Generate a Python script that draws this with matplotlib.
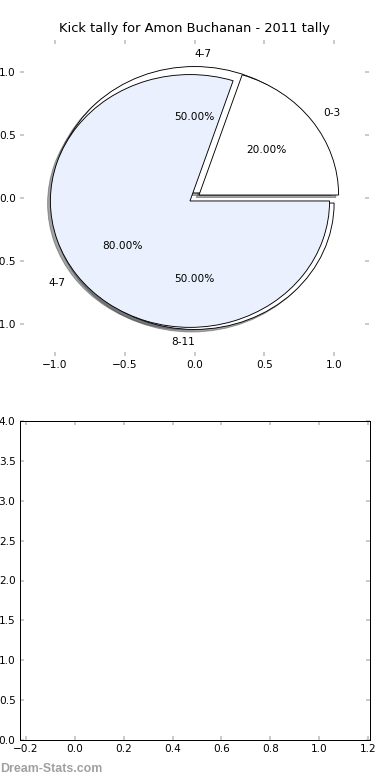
import matplotlib
matplotlib.use("Agg")
import matplotlib.pyplot as plt

# data
title = "Kick tally for Amon Buchanan - 2011 tally"
labels_a = ["0-3", "4-7"]
values_a = [20, 80]
colors_a = ["white", "#eaf0fd"]
labels_b = ["4-7", "8-11"]
values_b = [50, 50]
colors_b = ["white", "white"]
explode_amt = 0.04

pie_ticks = [-1.0, -0.5, 0.0, 0.5, 1.0]
bottom_xticks = [-0.2, 0.0, 0.2, 0.4, 0.6, 0.8, 1.0, 1.2]
bottom_yticks = [0.0, 0.5, 1.0, 1.5, 2.0, 2.5, 3.0, 3.5, 4.0]

W, H = 390, 780
FS = 10.5
fig = plt.figure(figsize=(W / 72, H / 72), dpi=72)


def px_axes(x0, y0, x1, y1):
    return fig.add_axes([x0 / W, 1 - y1 / H, (x1 - x0) / W, (y1 - y0) / H])


def style_ticks(ax):
    ax.tick_params(direction="in", length=4, width=1.5, color="#bbbbbb",
                   top=True, right=True, labelsize=FS, pad=4)


def fmt(v):
    return ("%.1f" % v).replace("-", "\u2212")


wedge_style = {"edgecolor": "black", "linewidth": 0.9}

ax1 = px_axes(20, 40, 369, 356)
# second pie sits underneath, first pie drawn on top of it
_, txt_b, _ = ax1.pie(values_b, labels=labels_b, colors=colors_b, autopct="%1.2f%%",
                      explode=[explode_amt] * len(values_b), shadow=True,
                      wedgeprops=wedge_style, textprops={"fontsize": FS})
ax1.pie(values_a, labels=labels_a, colors=colors_a, autopct="%1.2f%%",
        explode=[explode_amt] * len(values_a), shadow=True,
        wedgeprops=wedge_style, textprops={"fontsize": FS})
# old matplotlib aligned the top/bottom labels this way
txt_b[0].set_ha("left")
txt_b[1].set_ha("right")

ax1.set_aspect("auto")
ax1.set_frame_on(False)
ax1.set_xlim(-1.25, 1.25)
ax1.set_ylim(-1.25, 1.25)
ax1.set_xticks(pie_ticks)
ax1.set_yticks(pie_ticks)
ax1.set_xticklabels([fmt(t) for t in pie_ticks])
ax1.set_yticklabels([fmt(t) for t in pie_ticks])
style_ticks(ax1)
ax1.set_title(title, fontsize=13, pad=8)

ax2 = px_axes(19.5, 421, 370, 740)
ax2.set_xlim(-0.226, 1.208)
ax2.set_ylim(0, 4)
ax2.set_xticks(bottom_xticks)
ax2.set_yticks(bottom_yticks)
ax2.set_xticklabels([fmt(t) for t in bottom_xticks])
ax2.set_yticklabels([fmt(t) for t in bottom_yticks])
for s in ax2.spines.values():
    s.set_linewidth(1.0)
style_ticks(ax2)

fig.text(0.0, 1 - 769.5 / H, "Dream-Stats.com", fontsize=12.4, fontweight="bold",
         family="Liberation Sans", color="#a0a0a0", ha="left", va="center")

fig.savefig("out.png", dpi=72)
